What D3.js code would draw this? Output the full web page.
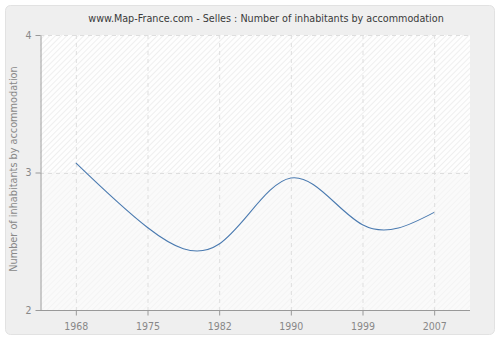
<!DOCTYPE html>
<html><head><meta charset="utf-8">
<script src="https://cdn.jsdelivr.net/npm/d3@7"></script>
<style>body{margin:0;background:#fff;}svg{display:block;font-family:"DejaVu Sans Condensed","DejaVu Sans",sans-serif;font-stretch:condensed;}</style>
</head><body>
<svg id="c" width="500" height="340"></svg>
<script>
const years = ["1968","1975","1982","1990","1999","2007"];
const values = [3.07, 2.60, 2.48, 2.96, 2.62, 2.71];
const yTicks = [2, 3, 4];
const title = "www.Map-France.com - Selles : Number of inhabitants by accommodation";
const yLabel = "Number of inhabitants by accommodation";

const FONT = '"DejaVu Sans Condensed","DejaVu Sans",sans-serif';
const svg = d3.select("#c");
const m = {l:40, r:470, t:35, b:310};

const defs = svg.append("defs");
function hatch(id, bg, fg){
  const p = defs.append("pattern").attr("id", id).attr("patternUnits","userSpaceOnUse")
    .attr("width",4).attr("height",4).attr("patternTransform","rotate(45)");
  p.append("rect").attr("width",4).attr("height",4).attr("fill",bg);
  p.append("line").attr("x1",0).attr("y1",0).attr("x2",0).attr("y2",4).attr("stroke",fg).attr("stroke-width",1.2);
}
hatch("hTop","#fefefe","#e6e6e6");
hatch("hBot","#fafafa","#f0f0f0");

svg.append("rect").attr("x",5.5).attr("y",5.5).attr("width",489).attr("height",329)
  .attr("rx",5).attr("fill","#efefef").attr("stroke","#e2e2e2");

const x = d3.scalePoint().domain(years).range([m.l, m.r]).padding(0.5);
const y = d3.scaleLinear().domain([2,4]).range([m.b, m.t]);

svg.append("rect").attr("x",m.l).attr("y",m.t).attr("width",m.r-m.l).attr("height",y(3)-m.t).attr("fill","url(#hTop)");
svg.append("rect").attr("x",m.l).attr("y",y(3)).attr("width",m.r-m.l).attr("height",m.b-y(3)).attr("fill","url(#hBot)");

// grid
const g = svg.append("g");
years.forEach(d=>{
  g.append("line").attr("x1",x(d)+0.5).attr("x2",x(d)+0.5).attr("y1",m.t).attr("y2",m.b)
   .attr("stroke","#dedede").attr("stroke-dasharray","4,4");
});
yTicks.forEach(v=>{
  g.append("line").attr("x1",m.l).attr("x2",m.r).attr("y1",Math.round(y(v))+0.5).attr("y2",Math.round(y(v))+0.5)
   .attr("stroke","#dedede").attr("stroke-dasharray","4,4");
});

// line
const line = d3.line().x((d,i)=>x(years[i])).y(d=>y(d)).curve(d3.curveNatural);
svg.append("path").datum(values).attr("d",line).attr("fill","none").attr("stroke","#4a7ab0").attr("stroke-width",1.1);

// axes
const ax = svg.append("g").attr("transform",`translate(0,${m.b+0.5})`)
  .call(d3.axisBottom(x).tickSize(5).tickSizeOuter(0));
ax.select(".domain").attr("d",`M${m.l},0H${m.r}`);
const ay = svg.append("g").attr("transform",`translate(${m.l+0.5},0)`)
  .call(d3.axisLeft(y).tickValues(yTicks).tickFormat(d3.format("d")).tickSize(5).tickSizeOuter(0));
[ax,ay].forEach(a=>{
  a.select(".domain").attr("stroke","#999");
  a.selectAll(".tick line").attr("stroke","#999");
  a.selectAll(".tick text").attr("fill","#888").attr("font-size",10.5).attr("font-family",FONT);
});
ax.selectAll(".tick text").attr("dy","1.05em");
ay.selectAll(".tick text").attr("x",-9);

svg.append("text").attr("x",266).attr("y",22).attr("text-anchor","middle").attr("font-family",FONT)
  .attr("font-size",10.7).attr("fill","#3a3a3a").text(title);
svg.append("text").attr("transform",`translate(17,169) rotate(-90)`).attr("text-anchor","middle")
  .attr("font-family",FONT).attr("font-size",10.8).attr("fill","#888").text(yLabel);
</script>
</body></html>
